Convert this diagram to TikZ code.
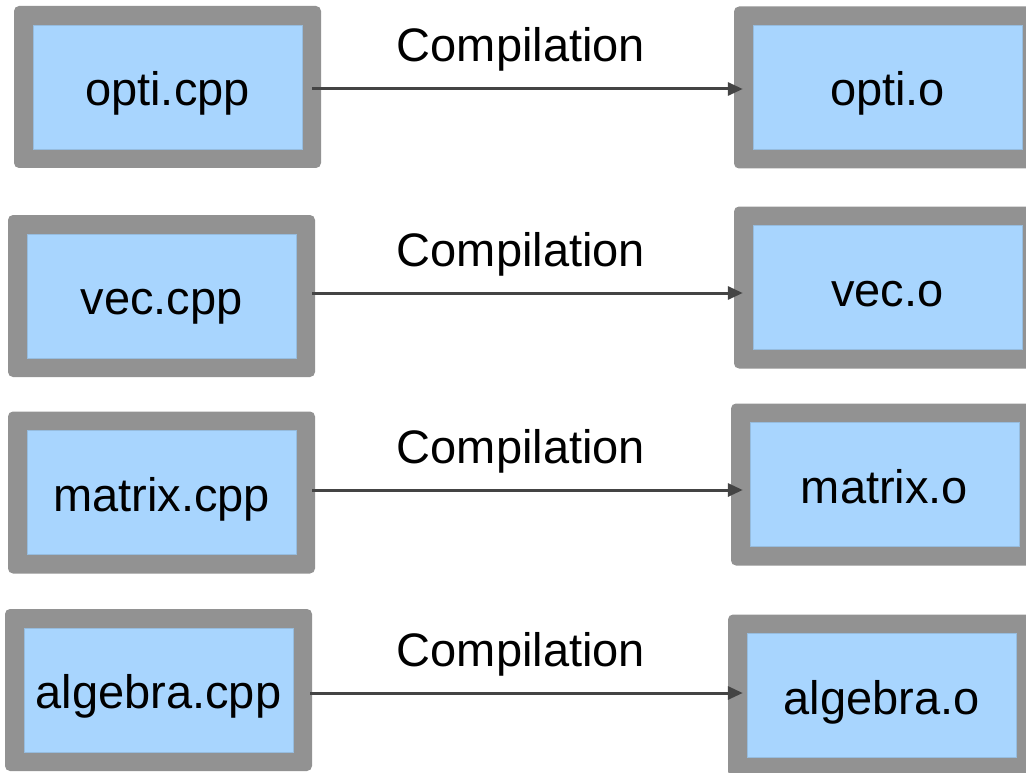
\documentclass[tikz,border=0pt]{standalone}
\usepackage{fontspec}
\setmainfont{Liberation Sans}
\usetikzlibrary{arrows.meta}

\definecolor{framegray}{RGB}{146,146,146}
\definecolor{filefill}{RGB}{168,213,254}
\definecolor{fileedge}{RGB}{150,188,222}
\definecolor{arrowgray}{RGB}{68,68,68}

\tikzset{
  filebox/.style={
    rectangle, rounded corners=5pt, fill=framegray,
    minimum width=307pt, minimum height=162pt, inner sep=0pt,
    text height=37pt, text depth=0pt,
    font=\fontsize{47}{56}\selectfont,
    path picture={
      \filldraw[sharp corners, fill=filefill, draw=fileedge, line width=0.8pt]
        ([shift={(19pt,-19pt)}]path picture bounding box.north west)
        rectangle
        ([shift={(-19pt,19pt)}]path picture bounding box.south east);
    }
  },
  compile/.style={
    draw=arrowgray, line width=3pt,
    -{Triangle[length=15pt,width=13pt]}
  },
  steplabel/.style={anchor=base, inner sep=0pt, font=\fontsize{47}{56}\selectfont}
}

\begin{document}
\begin{tikzpicture}[x=1pt,y=-1pt]
  \useasboundingbox (0,0) rectangle (1026,773);
  \clip (0,0) rectangle (1026,773);

  % source files
  \node[filebox] (cpp1) at (167.5,87)  {opti.cpp};
  \node[filebox] (cpp2) at (161.5,296) {vec.cpp};
  \node[filebox] (cpp3) at (161.5,492.5) {matrix.cpp};
  \node[filebox] (cpp4) at (158.5,690) {algebra.cpp};

  % object files
  \node[filebox] (obj1) at (887.5,87.5)  {opti.o};
  \node[filebox] (obj2) at (887.5,287.5) {vec.o};
  \node[filebox] (obj3) at (884.5,484.5) {matrix.o};
  \node[filebox] (obj4) at (881.5,695.5) {algebra.o};

  % compilation steps: each arrow runs from inside the source frame
  % to a tip that sits inside the object frame
  \draw[compile, shorten <=-9pt, shorten >=-9pt]
    (cpp1.east |- 0,89)  -- (obj1.west |- 0,89);
  \draw[compile, shorten <=-3pt, shorten >=-9pt]
    (cpp2.east |- 0,293) -- (obj2.west |- 0,293);
  \draw[compile, shorten <=-3pt, shorten >=-12pt]
    (cpp3.east |- 0,490) -- (obj3.west |- 0,490);
  \draw[compile, shorten <=-2pt, shorten >=-15pt]
    (cpp4.east |- 0,693) -- (obj4.west |- 0,693);

  \node[steplabel] (lab1) at (521,62)  {Compilation};
  \node[steplabel] (lab2) at (521,266) {Compilation};
  \node[steplabel] (lab3) at (521,463) {Compilation};
  \node[steplabel] (lab4) at (521,666) {Compilation};
\end{tikzpicture}
\end{document}
